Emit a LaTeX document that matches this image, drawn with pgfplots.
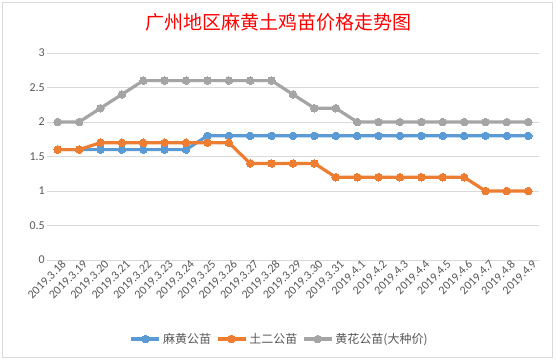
\documentclass[border=0pt]{standalone}
\usepackage{pgfplots}
\pgfplotsset{compat=1.18}
\usepackage{pgfplotstable}
\usepackage{fontspec}
\setmainfont{Carlito}
\newfontfamily\cjk{Noto Sans CJK SC}
\definecolor{cblue}{HTML}{5B9BD5}
\definecolor{corange}{HTML}{ED7D31}
\definecolor{cgray}{HTML}{A5A5A5}
\definecolor{gridc}{HTML}{D9D9D9}
\definecolor{txt}{HTML}{595959}
\pgfplotstableread{
x blue orange gray
0 1.6 1.6 2.0
1 1.6 1.6 2.0
2 1.6 1.7 2.2
3 1.6 1.7 2.4
4 1.6 1.7 2.6
5 1.6 1.7 2.6
6 1.6 1.7 2.6
7 1.8 1.7 2.6
8 1.8 1.7 2.6
9 1.8 1.4 2.6
10 1.8 1.4 2.6
11 1.8 1.4 2.4
12 1.8 1.4 2.2
13 1.8 1.2 2.2
14 1.8 1.2 2.0
15 1.8 1.2 2.0
16 1.8 1.2 2.0
17 1.8 1.2 2.0
18 1.8 1.2 2.0
19 1.8 1.2 2.0
20 1.8 1.0 2.0
21 1.8 1.0 2.0
22 1.8 1.0 2.0
}\datatable
\begin{document}
\begin{tikzpicture}[x=1pt,y=1pt]
\useasboundingbox (0,0) rectangle (557,360);
\fill[white] (0,0) rectangle (557,360);
\draw[gridc, line width=0.75pt] (2.5,3) rectangle (552,357.5);
\node[text=red, font=\cjk\fontsize{19}{22}\selectfont] at (278,338) {广州地区麻黄土鸡苗价格走势图};
\begin{axis}[
  at={(47pt,100pt)}, anchor=south west,
  scale only axis, width=492pt, height=207pt,
  xmin=-0.5, xmax=22.5, ymin=0, ymax=3,
  ytick={0,0.5,1,1.5,2,2.5,3},
  yticklabels={0,0.5,1,1.5,2,2.5,3},
  xtick={0,...,22},
  xticklabels={2019.3.18,2019.3.19,2019.3.20,2019.3.21,2019.3.22,2019.3.23,2019.3.24,2019.3.25,2019.3.26,2019.3.27,2019.3.28,2019.3.29,2019.3.30,2019.3.31,2019.4.1,2019.4.2,2019.4.3,2019.4.4,2019.4.5,2019.4.6,2019.4.7,2019.4.8,2019.4.9},
  axis line style={draw=none},
  major tick length=0pt,
  ymajorgrids,
  grid style={gridc, line width=0.75pt},
  tick label style={font=\fontsize{12}{14}\selectfont, text=txt},
  xticklabel style={rotate=45, anchor=east, inner sep=1pt, xshift=4pt, yshift=-6pt},
  yticklabel style={inner sep=2pt},
  /pgf/number format/assume math mode=true,
  legend columns=3,
  legend style={at={(0.473,-0.382)}, anchor=center, draw=none, fill=none,
    font=\cjk\fontsize{12}{14}\selectfont, text=txt,
    /tikz/every even column/.append style={column sep=3pt}},
  legend image code/.code={\draw[mark repeat=2,mark phase=2,#1] plot coordinates {(0pt,0pt)(14pt,0pt)(28pt,0pt)};},
  every axis plot/.append style={line width=3.2pt, mark=*, mark size=3.8pt, mark options={solid, draw=none, line width=0pt}},
  clip=false,
]
\addplot[cblue] table[x=x,y=blue]{\datatable};
\addlegendentry{麻黄公苗}
\addplot[corange] table[x=x,y=orange]{\datatable};
\addlegendentry{土二公苗}
\addplot[cgray] table[x=x,y=gray]{\datatable};
\addlegendentry{黄花公苗(大种价)}
\end{axis}
\end{tikzpicture}
\end{document}
